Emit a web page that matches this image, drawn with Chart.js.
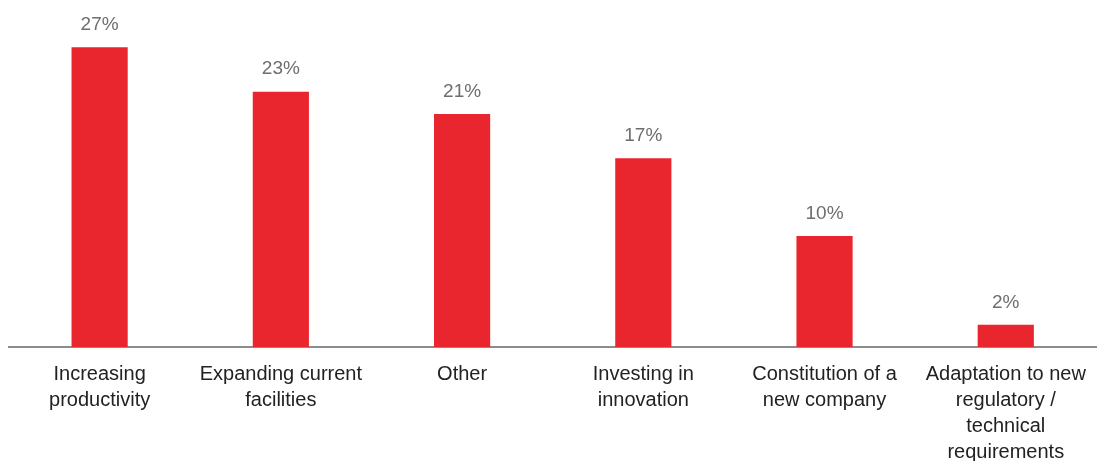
<!DOCTYPE html>
<html lang="en">
<head>
    <meta charset="UTF-8">
    <title>Purpose of investment</title>
    <script src="https://cdn.jsdelivr.net/npm/chart.js@4.4.0/dist/chart.umd.min.js"></script>
    <style>
        html, body { margin: 0; padding: 0; background: #fff; }
        #wrap { width: 1100px; height: 461px; position: relative; }
    </style>
</head>
<body>
    <div id="wrap"><canvas id="chart"></canvas></div>
    <script>
        const categories = [
            ['Increasing', 'productivity'],
            ['Expanding current', 'facilities'],
            ['Other'],
            ['Investing in', 'innovation'],
            ['Constitution of a', 'new company'],
            ['Adaptation to new', 'regulatory /', 'technical', 'requirements']
        ];
        const shares = [27, 23, 21, 17, 10, 2];

        // writes the % value above each bar
        const valueLabels = {
            id: 'valueLabels',
            afterDatasetsDraw(chart) {
                const ctx = chart.ctx;
                const meta = chart.getDatasetMeta(0);
                ctx.save();
                ctx.font = '19px "Liberation Sans", Arial, sans-serif';
                ctx.fillStyle = '#6e6e6e';
                ctx.textAlign = 'center';
                ctx.textBaseline = 'bottom';
                meta.data.forEach((bar, i) => {
                    ctx.fillText(shares[i] + '%', bar.x, bar.y - 13);
                });
                ctx.restore();
            }
        };

        new Chart(document.getElementById('chart'), {
            type: 'bar',
            data: {
                labels: categories,
                datasets: [{
                    data: shares,
                    backgroundColor: '#e9262e',
                    barPercentage: 0.31,
                    categoryPercentage: 1
                }]
            },
            options: {
                responsive: true,
                maintainAspectRatio: false,
                animation: false,
                layout: { padding: { top: 14, left: 9, right: 2, bottom: -18 } },
                plugins: { legend: { display: false }, tooltip: { enabled: false } },
                scales: {
                    x: {
                        grid: { display: false, drawTicks: false },
                        border: { display: true, color: '#8c8c8c', width: 2 },
                        ticks: {
                            autoSkip: false,
                            maxRotation: 0,
                            minRotation: 0,
                            padding: 14,
                            color: '#222',
                            font: { family: '"Liberation Sans", Arial, sans-serif', size: 20, lineHeight: '26px' }
                        }
                    },
                    y: {
                        display: false,
                        min: 0,
                        max: 30
                    }
                }
            },
            plugins: [valueLabels]
        });
    </script>
</body>
</html>
